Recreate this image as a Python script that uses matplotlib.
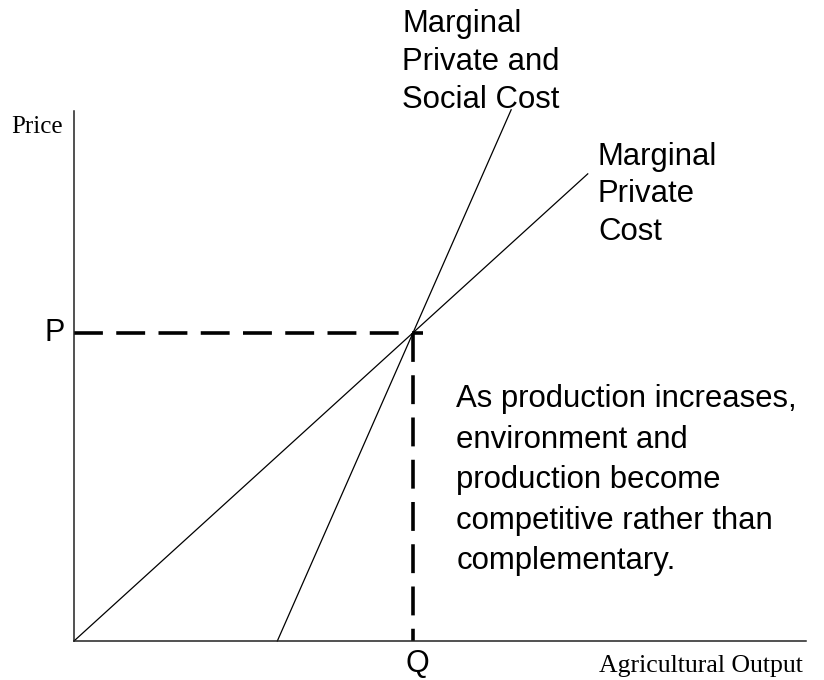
import matplotlib
matplotlib.use('Agg')
import matplotlib.pyplot as plt

# curve data (arbitrary output / price units)
mpc_x = [0.0, 7.58]
mpc_y = [0.0, 7.58]
mpsc_x = [3.0, 6.45]
mpsc_y = [0.0, 8.62]
q_star = 5.0
p_star = 5.0

x_max = 10.8
y_max = 8.6

sans = ['Liberation Sans', 'DejaVu Sans']
serif = ['Liberation Serif', 'DejaVu Serif']

fig = plt.figure(figsize=(8.24, 6.8), dpi=100)
ax = fig.add_axes([74 / 824, 39 / 680, 732 / 824, 530 / 680])
ax.set_xlim(0, x_max)
ax.set_ylim(0, y_max)

for side in ['top', 'right']:
    ax.spines[side].set_visible(False)
for side in ['left', 'bottom']:
    ax.spines[side].set_linewidth(1.1)
    ax.spines[side].set_color('#222222')
ax.set_xticks([])
ax.set_yticks([])

# cost curves
ax.plot(mpc_x, mpc_y, color='black', lw=0.9, clip_on=False)
ax.plot(mpsc_x, mpsc_y, color='black', lw=0.9, clip_on=False)

# dashed equilibrium guides
ax.plot([0, q_star + 0.15], [p_star, p_star], color='black', lw=2.6,
        dashes=(8, 3.7), clip_on=False)
ax.plot([q_star, q_star], [p_star, 0], color='black', lw=2.6,
        dashes=(8, 3.7), clip_on=False)

# axis labels
ax.text(-0.16, 8.25, 'Price', family=serif, fontsize=18, ha='right', va='baseline')
ax.text(7.75, -0.5, 'Agricultural Output', family=serif, fontsize=18.5,
        ha='left', va='baseline')
ax.text(-0.13, p_star, 'P', family=sans, fontsize=22, ha='right', va='center')
ax.text(q_star + 0.06, -0.5, 'Q', family=sans, fontsize=22, ha='center', va='baseline')

# curve labels (va='baseline' pins the last line)
ax.text(4.84, 8.65, 'Marginal\nPrivate and\nSocial Cost', family=sans, fontsize=22.4,
        ha='left', va='baseline', linespacing=1.35)
ax.text(7.73, 6.51, 'Marginal\nPrivate\nCost', family=sans, fontsize=22.4,
        ha='left', va='baseline', linespacing=1.33)

ax.text(5.64, 1.17, 'As production increases,\nenvironment and\nproduction become\n'
        'competitive rather than\ncomplementary.', family=sans, fontsize=22.4,
        ha='left', va='baseline', linespacing=1.45)

fig.savefig('out.png', dpi=100)
